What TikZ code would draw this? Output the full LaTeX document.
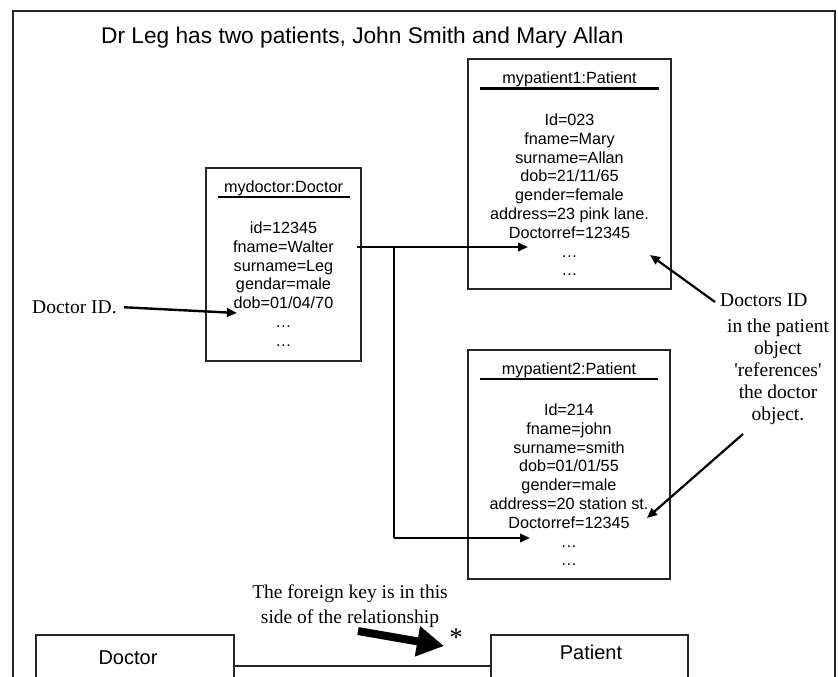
\documentclass[tikz,border=0pt]{standalone}
\usepackage{fontspec}
\setmainfont{Liberation Serif}[Ligatures=TeXOff]
\newfontfamily\arialfont{Liberation Sans}
\usetikzlibrary{arrows.meta}
\begin{document}
\begin{tikzpicture}[x=1pt,y=-1pt,
  objbox/.style={draw=black!85, line width=1.3pt, inner sep=0pt},
  attr/.style={font=\arialfont\fontsize{16.2}{18.8}\selectfont, anchor=base, inner sep=0pt},
  classtxt/.style={font=\arialfont\fontsize{20}{24}\selectfont, anchor=base, inner sep=0pt},
  note/.style={font=\fontsize{19.5}{22}\selectfont, inner sep=0pt},
  conn/.style={line width=2.2pt, -{Triangle[length=10pt,width=8.5pt]}},
]
\clip (0,0) rectangle (838,677);
\fill[white] (0,0) rectangle (838,677);

% outer frame (open at the bottom)
\draw[line width=2pt, black!85] (12.5,700) -- (12.5,11.5) -- (835,11.5) -- (835,700);

% heading
\node[anchor=base west, inner sep=0pt, font=\arialfont\fontsize{22.7}{26}\selectfont]
  (title) at (101,44) {Dr Leg has two patients, John Smith and Mary Allan};

% ---- object: mydoctor ----
\node[objbox, minimum width=155pt, minimum height=193pt] (doc) at (283.5,264.5) {};
\node[attr] (docname) at (283.5,192.5) {mydoctor:Doctor};
\draw[line width=1.2pt] (218,197) -- (350,197);
\foreach \t [count=\i] in {id=12345, fname=Walter, surname=Leg, gendar=male, dob=01/04/70, …, …}
  \node[attr] (docl\i) at (283.5,{233.5+18.8*(\i-1)}) {\t};

% ---- object: mypatient1 ----
\node[objbox, minimum width=203pt, minimum height=230pt] (pa) at (569.5,174) {};
\node[attr] (paname) at (569.5,83.5) {mypatient1:Patient};
\draw[line width=2.5pt] (480,88.5) -- (659,88.5);
\foreach \t [count=\i] in {Id=023, fname=Mary, surname=Allan, dob=21/11/65, gender=female,
    address=23 pink lane., Doctorref=12345, …, …}
  \node[attr] (pal\i) at (569.5,{125.5+18.8*(\i-1)}) {\t};

% ---- object: mypatient2 ----
\node[objbox, minimum width=202pt, minimum height=229pt] (pb) at (569,464.5) {};
\node[attr] (pbname) at (569,374.5) {mypatient2:Patient};
\draw[line width=2.5pt] (480,379) -- (658,379);
\foreach \t [count=\i] in {Id=214, fname=john, surname=smith, dob=01/01/55, gender=male,
    address=20 station st., Doctorref=12345, …, …}
  \node[attr] (pbl\i) at (569,{415.5+18.8*(\i-1)}) {\t};

% ---- references from the doctor to its patients ----
\coordinate (dstart) at (357,247);
\coordinate (junc) at (394,247);
\coordinate (tipa) at (528,247);
\coordinate (tipb) at (530,538);
\draw[conn] (dstart) -- (tipa);
\draw[line width=1.6pt] (junc) -- (junc |- tipb);
\draw[conn] (junc |- tipb) -- (tipb);

% ---- annotations ----
\node[note, anchor=base west] (idlabel) at (32,313.5) {Doctor ID.};
\coordinate (idtip) at (237,313);
\draw[conn, line width=2.4pt] ([xshift=7pt]idlabel.east) -- (idtip);

\node[note, anchor=base west] (refa) at (720,306.5) {Doctors ID};
\node[note, anchor=base] (refb) at (778,332.5) {in the patient};
\node[note, anchor=base] (refc) at (778,354.5) {object};
\node[note, anchor=base] (refd) at (778,376.5) {'references'};
\node[note, anchor=base] (refe) at (778,398.5) {the doctor};
\node[note, anchor=base] (reff) at (778,420.5) {object.};
\coordinate (refstarta) at (715,302);
\coordinate (refstartb) at (743,434);
\coordinate (reftipa) at (650,255);
\coordinate (reftipb) at (647,518);
\draw[conn] (refstarta) -- (reftipa);
\draw[conn] (refstartb) -- (reftipb);

% ---- class diagram ----
\node[objbox, minimum width=198pt, minimum height=62pt] (cdoc) at (135,666) {};
\node[objbox, minimum width=197pt, minimum height=62pt] (cpat) at (589.5,666) {};
\node[classtxt] (cdoctxt) at (128,664) {Doctor};
\node[classtxt] (cpattxt) at (591,659) {Patient};
\draw[line width=1.3pt, black!85] (cdoc.east) -- (cpat.west);

\node[note, anchor=base] (fka) at (350,598) {The foreign key is in this};
\node[note, anchor=base] (fkb) at (350,623) {side of the relationship};
\node[note, anchor=base, font=\fontsize{27}{30}\selectfont] (many) at (456,646) {*};
\coordinate (fkstart) at (358,631);
\coordinate (fktip) at (444,646);
\draw[line width=8pt, -{Triangle[length=27pt,width=29pt]}] (fkstart) -- (fktip);
\end{tikzpicture}
\end{document}
